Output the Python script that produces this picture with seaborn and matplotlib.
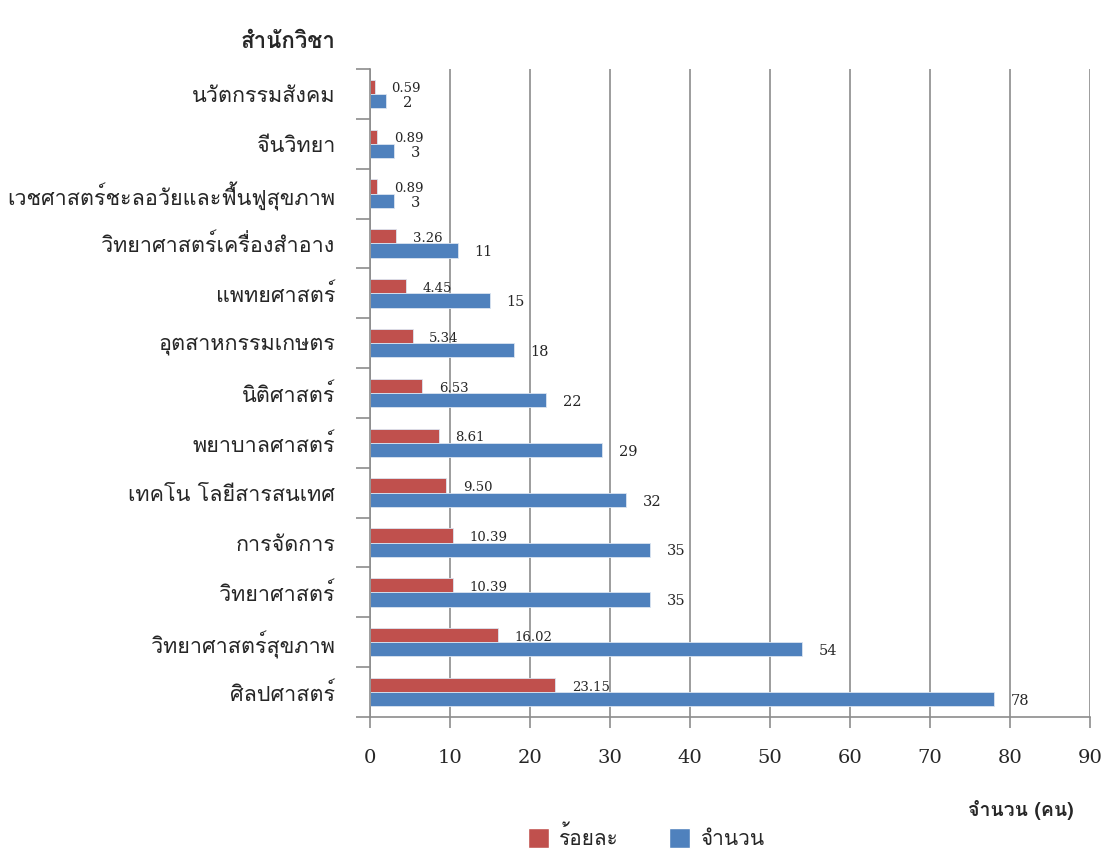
import matplotlib
matplotlib.use('Agg')
import matplotlib.pyplot as plt
from matplotlib import font_manager as fm
from matplotlib.ft2font import FT2Font
from matplotlib.patches import Patch
from matplotlib.ticker import MultipleLocator, FixedLocator
import seaborn as sns
import pandas as pd
import numpy as np

# ข้อมูล
faculties = ['นวัตกรรมสังคม', 'จีนวิทยา', 'เวชศาสตร์ชะลอวัยและฟื้นฟูสุขภาพ',
             'วิทยาศาสตร์เครื่องสำอาง', 'แพทยศาสตร์', 'อุตสาหกรรมเกษตร',
             'นิติศาสตร์', 'พยาบาลศาสตร์', 'เทคโน โลยีสารสนเทศ', 'การจัดการ',
             'วิทยาศาสตร์', 'วิทยาศาสตร์สุขภาพ', 'ศิลปศาสตร์']
percent = [0.59, 0.89, 0.89, 3.26, 4.45, 5.34, 6.53, 8.61, 9.50, 10.39, 10.39, 16.02, 23.15]
count = [2, 3, 3, 11, 15, 18, 22, 29, 32, 35, 35, 54, 78]
series = ['ร้อยละ', 'จำนวน']
colors = ['#C0504D', '#4F81BD']

# หาฟอนต์ที่มีอักษรไทย
thai_font = None
for f in fm.fontManager.ttflist:
    try:
        if 0x0E01 in FT2Font(f.fname).get_charmap():
            thai_font = f.name
            break
    except Exception:
        pass
fams = [thai_font, 'DejaVu Serif'] if thai_font else ['DejaVu Serif']

sns.set_style('white')
plt.rcParams['font.family'] = fams

df = pd.DataFrame({
    'faculty': faculties * 2,
    'value': percent + count,
    'series': [series[0]] * len(faculties) + [series[1]] * len(faculties),
})

fig = plt.figure(figsize=(11.1, 8.5), dpi=100)
ax = fig.add_axes([0.3333, 0.1565, 0.6487, 0.7623])
sns.barplot(data=df, y='faculty', x='value', hue='series', hue_order=series,
            palette=colors, saturation=1, orient='h', width=0.57, ax=ax, legend=False,
            edgecolor='#dbe5f1', linewidth=0.6)

ax.set_xlim(0, 90)
ax.set_ylim(len(faculties) - 0.5, -0.5)
ax.xaxis.set_major_locator(MultipleLocator(10))
ax.grid(axis='x', color='#8c8c8c', linewidth=1.2)
ax.set_axisbelow(True)
for s in ['top', 'right']:
    ax.spines[s].set_visible(False)
for s in ['left', 'bottom']:
    ax.spines[s].set_color('#8c8c8c')
    ax.spines[s].set_linewidth(1.2)

# tick ที่เส้นแบ่งหมวด
ax.yaxis.set_minor_locator(FixedLocator(np.arange(-0.5, len(faculties), 1)))
ax.tick_params(axis='y', which='minor', length=10, width=1.2, color='#8c8c8c', left=True)
ax.tick_params(axis='y', which='major', length=0, pad=25, labelsize=15.5)
ax.tick_params(axis='x', which='major', length=8, width=1.2, color='#8c8c8c', bottom=True,
               pad=15, labelsize=14)
for t in ax.get_xticklabels():
    t.set_family(['DejaVu Serif'])
ax.set_xlabel('')
ax.set_ylabel('')

# ป้ายค่า
for i, (p, c) in enumerate(zip(percent, count)):
    ax.annotate(f'{p:.2f}', (p, i - 0.1), xytext=(12, 0), textcoords='offset points',
                fontsize=9.5, family=['DejaVu Serif'], va='center', ha='left')
    ax.annotate(f'{c}', (c, i + 0.18), xytext=(12, 0), textcoords='offset points',
                fontsize=10.5, family=['DejaVu Serif'], va='center', ha='left')

fig.text(0.302, 0.95, 'สำนักวิชา', fontsize=16, fontweight='bold', ha='right', va='center')
fig.text(0.967, 0.047, 'จำนวน (คน)', fontsize=14, fontweight='bold', ha='right', va='center')

handles = [Patch(facecolor=colors[0]), Patch(facecolor=colors[1])]
fig.legend(handles, series, loc='center', bbox_to_anchor=(0.582, 0.015), ncol=2,
           frameon=False, fontsize=15, handlelength=1.0, handleheight=1.15,
           columnspacing=2.4, handletextpad=0.5)

fig.savefig('out.png', dpi=100)
